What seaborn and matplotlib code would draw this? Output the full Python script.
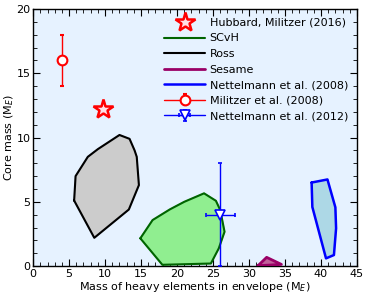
import numpy as np
import matplotlib
matplotlib.use("Agg")
import matplotlib.pyplot as plt
import seaborn as sns
from matplotlib.ticker import MultipleLocator

sns.set_theme(style="ticks")
plt.rcParams['font.family'] = ['DejaVu Sans']
plt.rcParams.update({'text.color': 'black', 'axes.labelcolor': 'black',
                     'xtick.color': 'black', 'ytick.color': 'black'})

# model regions (envelope heavy mass, core mass)
ross_x = [5.7, 5.9, 7.6, 9.0, 12.0, 13.4, 14.1, 14.4, 14.7, 13.3, 8.5, 5.7]
ross_y = [5.1, 7.0, 8.5, 9.1, 10.2, 9.9, 9.0, 8.5, 6.3, 4.4, 2.2, 5.1]
scvh_x = [14.9, 16.6, 19.0, 21.0, 23.75, 25.4, 26.0, 26.6, 25.8, 24.7, 17.96, 14.9]
scvh_y = [2.16, 3.58, 4.41, 5.0, 5.66, 5.08, 4.36, 2.67, 1.38, 0.2, 0.1, 2.16]
sesame_x = [31.25, 32.45, 34.5, 31.25]
sesame_y = [0.03, 0.68, 0.13, 0.03]
n08_x = [38.7, 40.9, 42.0, 42.1, 41.8, 40.7, 38.8, 38.7]
n08_y = [6.5, 6.74, 4.57, 2.94, 0.86, 0.6, 4.6, 6.5]

# single estimates
hubbard_x, hubbard_y = [9.7], [12.2]
militzer_x, militzer_y, militzer_yerr = [4.0], [16.0], [2.0]
n12_x, n12_y = [26.0], [4.0]
n12_xerr = [2.0]
n12_yerr = [[4.0], [4.0]]

fig, ax = plt.subplots(figsize=(3.68, 3.01), dpi=100)
ax.set_facecolor('#e6f2ff')

ax.fill(scvh_x, scvh_y, color='lightgreen', zorder=2)
l_scvh, = ax.plot(scvh_x, scvh_y, color='darkgreen', lw=1.5, label='SCvH', zorder=3)
ax.fill(ross_x, ross_y, color='#cccccc', zorder=2)
l_ross, = ax.plot(ross_x, ross_y, color='black', lw=1.5, label='Ross', zorder=3)
ax.fill(sesame_x, sesame_y, color='#c0609a', zorder=2)
l_ses, = ax.plot(sesame_x, sesame_y, color='#990066', lw=2, label='Sesame', zorder=3)
ax.fill(n08_x, n08_y, color='lightblue', zorder=2)
l_n08, = ax.plot(n08_x, n08_y, color='blue', lw=1.8, label='Nettelmann et al. (2008)', zorder=3)

l_hub, = ax.plot(hubbard_x, hubbard_y, ls='none', marker='*', ms=15, mfc='#ffe0e6',
                 mec='red', mew=1.8, label='Hubbard, Militzer (2016)', zorder=5)
e_mil = ax.errorbar(militzer_x, militzer_y, yerr=militzer_yerr, fmt='-o', color='red',
                    mfc='white', mec='red', mew=1.5, ms=7, capsize=1.5, lw=1,
                    label='Militzer et al. (2008)', zorder=5)
e_n12 = ax.errorbar(n12_x, n12_y, xerr=n12_xerr, yerr=n12_yerr, fmt='-v', color='blue',
                    mfc='white', mec='blue', mew=1.2, ms=7, capsize=1.5, lw=1,
                    label='Nettelmann et al. (2012)', zorder=5)

ax.set_xlim(0, 45)
ax.set_ylim(0, 20)
ax.xaxis.set_major_locator(MultipleLocator(5))
ax.xaxis.set_minor_locator(MultipleLocator(1))
ax.yaxis.set_major_locator(MultipleLocator(5))
ax.yaxis.set_minor_locator(MultipleLocator(1))
ax.tick_params(which='both', direction='in', top=True, right=True, labelsize=8, pad=2)
ax.tick_params(which='major', length=5, width=0.8)
ax.tick_params(which='minor', length=3, width=0.6)
for s in ax.spines.values():
    s.set_linewidth(1)
    s.set_color('black')

ax.set_xlabel('Mass of heavy elements in envelope (M$_E$)', fontsize=8, labelpad=1)
ax.set_ylabel('Core mass (M$_E$)', fontsize=8, labelpad=0.5)

handles = [l_hub, l_scvh, l_ross, l_ses, l_n08, e_mil, e_n12]
ax.legend(handles=handles, loc='upper right', frameon=False, fontsize=8,
          handlelength=3.7, labelspacing=0.5, borderaxespad=0.4, handletextpad=0.4)

fig.subplots_adjust(left=0.09, right=0.97, bottom=0.116, top=0.97)
fig.savefig('out.png', dpi=100)
